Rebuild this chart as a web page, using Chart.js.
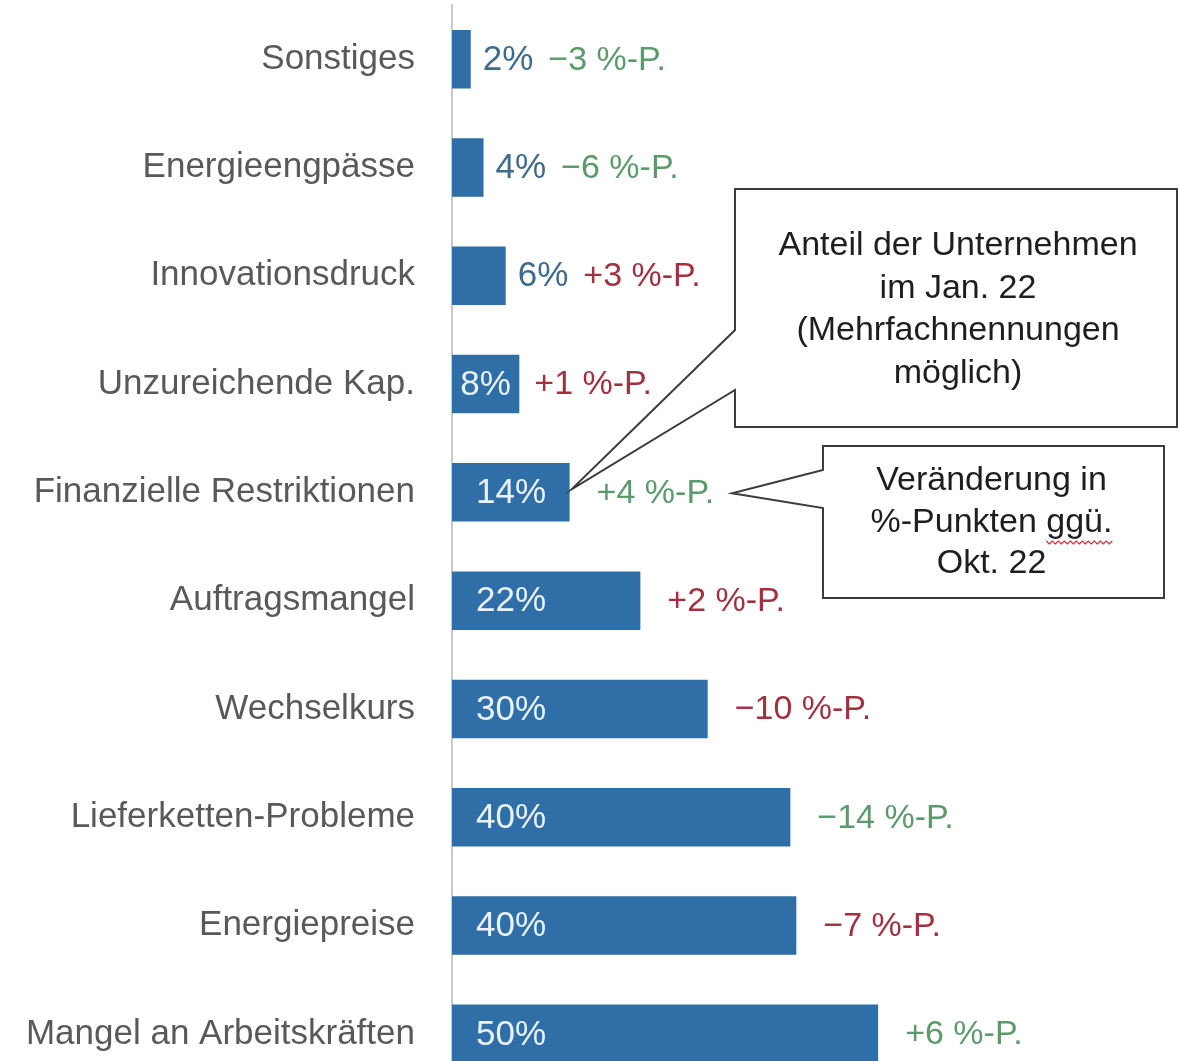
<!DOCTYPE html>
<html>
<head>
<meta charset="utf-8">
<script src="https://cdn.jsdelivr.net/npm/chart.js@4/dist/chart.umd.min.js"></script>
<style>
  html, body { margin: 0; padding: 0; background: #ffffff; overflow: hidden; }
  #wrap { position: relative; width: 1179px; height: 1090px; }
</style>
</head>
<body>
<div id="wrap"><canvas id="c"></canvas></div>
<script>
// ---- data ----
const categories = [
  'Sonstiges',
  'Energieengpässe',
  'Innovationsdruck',
  'Unzureichende Kap.',
  'Finanzielle Restriktionen',
  'Auftragsmangel',
  'Wechselkurs',
  'Lieferketten-Probleme',
  'Energiepreise',
  'Mangel an Arbeitskräften'
];
const shares = [2.2, 3.7, 6.3, 7.9, 13.8, 22.1, 30.0, 39.7, 40.4, 50.0];
const changes = [-3, -6, 3, 1, 4, 2, -10, -14, -7, 6];
const changeTones = ['green', 'green', 'red', 'red', 'green', 'red', 'red', 'green', 'red', 'green'];
const boxText1 = ['Anteil der Unternehmen', 'im Jan. 22', '(Mehrfachnennungen', 'möglich)'];
const boxText2 = ['Veränderung in', '%-Punkten ggü.', 'Okt. 22'];

// ---- styles ----
const FONT = '"Liberation Sans", Arial, sans-serif';
const BAR = '#2f6ea6';
const TONE = { green: '#5b9a6b', red: '#a3303f' };

function fmtChange(v) {
  return (v > 0 ? '+' : '\u2212') + Math.abs(v) + ' %-P.';
}

const labelPlugin = {
  id: 'labels',
  afterDatasetsDraw(chart) {
    const ctx = chart.ctx;
    const meta = chart.getDatasetMeta(0);
    chart.$changeEnds = [];
    ctx.save();
    ctx.textBaseline = 'middle';
    ctx.textAlign = 'left';
    meta.data.forEach((bar, i) => {
      const end = bar.x, base = bar.base, y = bar.y;
      const txt = Math.round(shares[i]) + '%';
      ctx.font = '35px ' + FONT;
      const w = ctx.measureText(txt).width;
      let vx, leftInside = false, valueEnd;
      if (end - base >= w + 10) {
        if (base + 24 + w + 4 <= end) { vx = base + 24; leftInside = true; }
        else { vx = (base + end) / 2 - w / 2; }
        ctx.fillStyle = '#e9f2fb';
      } else {
        vx = end + 12;
        ctx.fillStyle = '#3f6b8f';
      }
      ctx.fillText(txt, vx, y + 1);
      valueEnd = vx + w;
      const cx = leftInside ? end + 27 : Math.max(end, valueEnd) + 15;
      const ctxt = fmtChange(changes[i]);
      ctx.font = '34px ' + FONT;
      ctx.fillStyle = TONE[changeTones[i]];
      ctx.fillText(ctxt, cx, y + 1);
      chart.$changeEnds.push(cx + ctx.measureText(ctxt).width);
    });
    ctx.restore();
  },
  afterDraw(chart) {
    const ctx = chart.ctx;
    const meta = chart.getDatasetMeta(0);
    const fin = meta.data[4];
    ctx.save();
    ctx.lineWidth = 2;
    ctx.strokeStyle = '#3c3c3c';
    ctx.fillStyle = '#ffffff';

    // callout 1: points to the bar of "Finanzielle Restriktionen"
    const b1 = { l: 735, t: 189, r: 1177, b: 427, p1: 330, p2: 390 };
    const tip1 = { x: fin.x + 2, y: fin.y - 3 };
    ctx.beginPath();
    ctx.moveTo(b1.l, b1.t);
    ctx.lineTo(b1.r, b1.t);
    ctx.lineTo(b1.r, b1.b);
    ctx.lineTo(b1.l, b1.b);
    ctx.lineTo(b1.l, b1.p2);
    ctx.lineTo(tip1.x, tip1.y);
    ctx.lineTo(b1.l, b1.p1);
    ctx.closePath();
    ctx.fill();
    ctx.stroke();

    // callout 2: points to the change label of "Finanzielle Restriktionen"
    const b2 = { l: 823, t: 446, r: 1164, b: 598, p1: 470, p2: 508 };
    const tip2 = { x: chart.$changeEnds[4] + 18, y: fin.y + 1 };
    ctx.beginPath();
    ctx.moveTo(b2.l, b2.t);
    ctx.lineTo(b2.r, b2.t);
    ctx.lineTo(b2.r, b2.b);
    ctx.lineTo(b2.l, b2.b);
    ctx.lineTo(b2.l, b2.p2);
    ctx.lineTo(tip2.x, tip2.y);
    ctx.lineTo(b2.l, b2.p1);
    ctx.closePath();
    ctx.fill();
    ctx.stroke();

    ctx.fillStyle = '#1e1e1e';
    ctx.font = '34px ' + FONT;
    ctx.textAlign = 'center';
    ctx.textBaseline = 'middle';
    const c1 = (b1.l + b1.r) / 2 + 2;
    boxText1.forEach((t, k) => ctx.fillText(t, c1, 246 + k * 42.5));
    const c2 = (b2.l + b2.r) / 2 - 2;
    boxText2.forEach((t, k) => ctx.fillText(t, c2, 481 + k * 41.5));

    // spell-check squiggle under "ggü."
    const line = boxText2[1];
    const idx = line.indexOf('ggü');
    const full = ctx.measureText(line).width;
    const pre = ctx.measureText(line.slice(0, idx)).width;
    const ww = ctx.measureText('ggü.').width;
    const sx = c2 - full / 2 + pre;
    const sy = 481 + 41.5 + 20;
    ctx.beginPath();
    ctx.strokeStyle = '#d03030';
    ctx.lineWidth = 1.2;
    for (let x = sx, k = 0; x <= sx + ww; x += 3, k++) {
      const yy = sy + (k % 2 ? 1.5 : -1.5);
      if (k === 0) ctx.moveTo(x, yy); else ctx.lineTo(x, yy);
    }
    ctx.stroke();
    ctx.restore();
  }
};

new Chart(document.getElementById('c'), {
  type: 'bar',
  data: {
    labels: categories,
    datasets: [{
      data: shares,
      backgroundColor: BAR,
      borderWidth: 0,
      barPercentage: 0.54,
      categoryPercentage: 1.0
    }]
  },
  options: {
    indexAxis: 'y',
    responsive: true,
    maintainAspectRatio: false,
    animation: false,
    layout: { padding: { top: 5, bottom: 2, left: 0, right: 0 } },
    plugins: { legend: { display: false }, tooltip: { enabled: false } },
    scales: {
      x: {
        display: false,
        min: 0,
        max: 85.3,
        grid: { display: false }
      },
      y: {
        afterFit(scale) {
          scale.width = 452;
          scale.paddingTop = 0;
          scale.paddingBottom = 0;
        },
        grid: { display: false, drawTicks: false, tickLength: 0 },
        border: { display: true, color: '#c9c9c9', width: 2 },
        ticks: {
          padding: 37,
          color: '#595959',
          font: { family: FONT, size: 35 }
        }
      }
    }
  },
  plugins: [labelPlugin]
});
</script>
</body>
</html>
